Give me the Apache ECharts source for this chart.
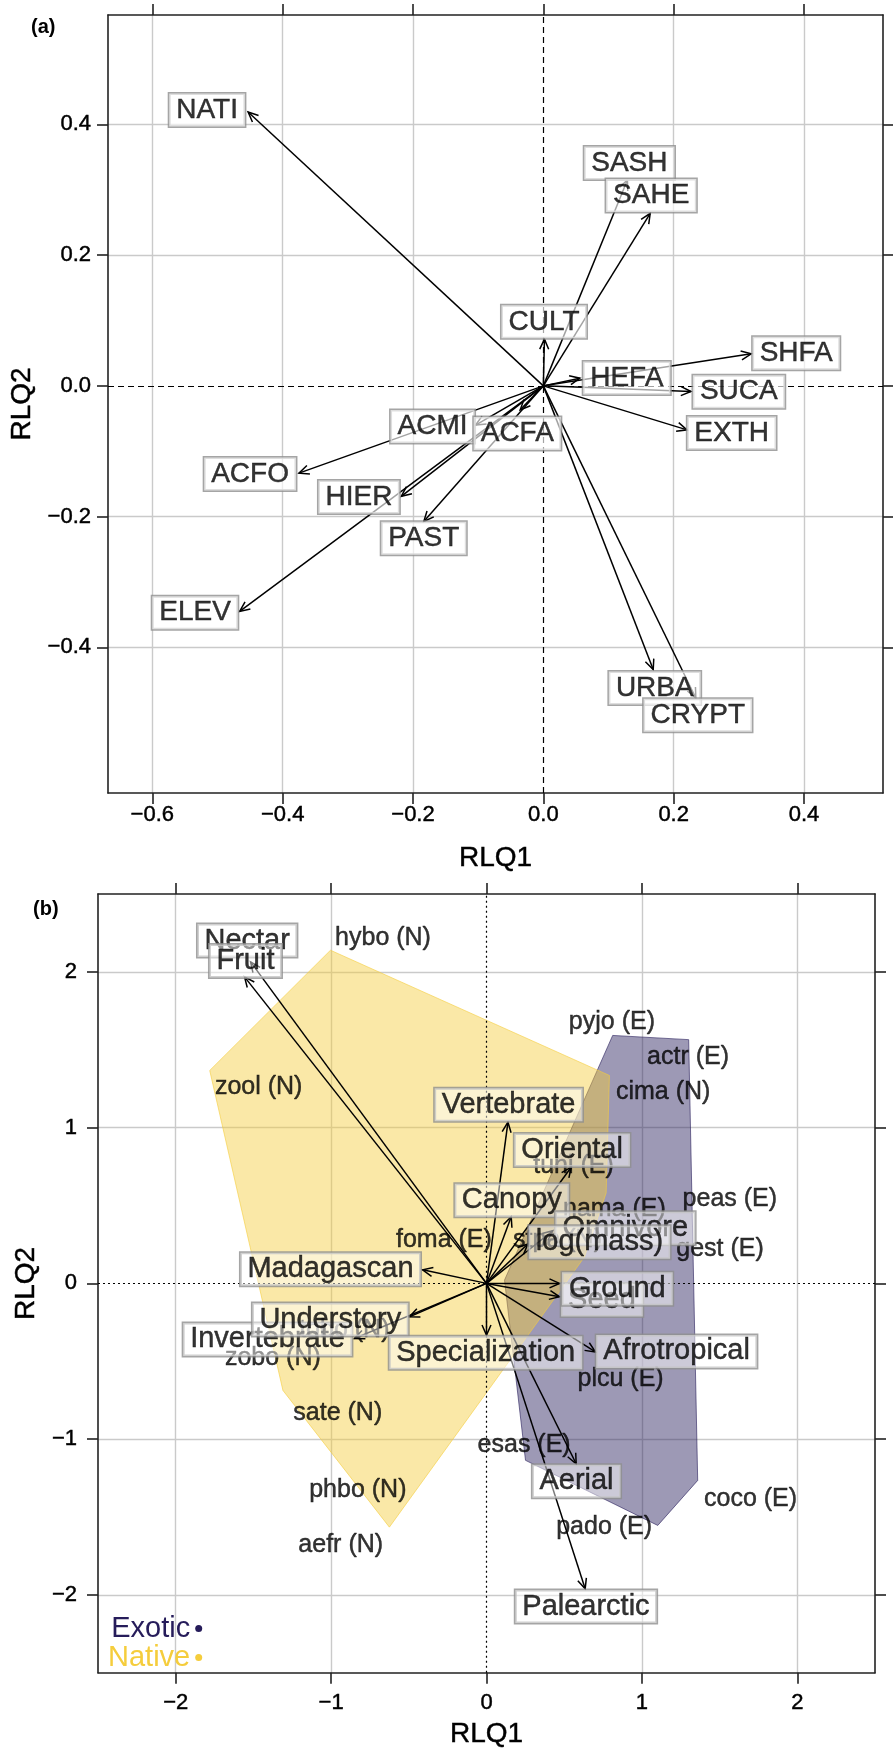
<!DOCTYPE html>
<html><head><meta charset="utf-8">
<script src="https://cdn.jsdelivr.net/npm/echarts@6/dist/echarts.min.js"></script>
<style>html,body{margin:0;padding:0;background:#fff}#c{width:893px;height:1750px}</style>
</head><body><div id="c"></div>
<script>
// ---------- Panel (a): environmental variables ----------
const envNames  = ['NATI','SASH','SAHE','CULT','SHFA','HEFA','SUCA','EXTH','ACMI','ACFA','ACFO','HIER','PAST','ELEV','URBA','CRYPT'];
const envX      = [-0.453, 0.129, 0.164, 0.0017, 0.319, 0.056, 0.2266, 0.2205, -0.104, -0.0355, -0.375, -0.218, -0.1835, -0.466, 0.1686, 0.234];
const envY      = [0.419, 0.315, 0.264, 0.0714, 0.049, 0.0118, -0.0087, -0.0673, -0.060, -0.0367, -0.1335, -0.169, -0.2075, -0.345, -0.434, -0.4775];
const envLabelX = [-0.516, 0.132, 0.1655, 0.001, 0.388, 0.128, 0.300, 0.289, -0.170, -0.040, -0.450, -0.283, -0.1835, -0.5345, 0.171, 0.237];
const envLabelY = [0.422, 0.341, 0.291, 0.098, 0.050, 0.012, -0.009, -0.072, -0.062, -0.073, -0.135, -0.170, -0.233, -0.347, -0.462, -0.504];
const aTicksX = [-0.6, -0.4, -0.2, 0, 0.2, 0.4];
const aTicksY = [-0.4, -0.2, 0, 0.2, 0.4];

// ---------- Panel (b): traits, species, groups ----------
const traitNames  = ['Nectar','Fruit','Vertebrate','Oriental','Canopy','Omnivore','log(mass)','Madagascan','Seed','Ground','Invertebrate','Understory','Specialization','Afrotropical','Aerial','Palearctic'];
const traitX      = [-1.518, -1.557, 0.138, 0.545, 0.159, 0.427, 0.266, -0.411, 0.470, 0.470, -0.850, -0.496, 0.0, 0.701, 0.577, 0.635];
const traitY      = [2.064, 1.968, 1.035, 0.746, 0.428, 0.338, 0.253, 0.087, -0.086, 0.0, -0.354, -0.215, -0.332, -0.440, -1.158, -1.961];
const traitLabelX = [-1.540, -1.551, 0.142, 0.551, 0.163, 0.893, 0.727, -1.004, 0.743, 0.842, -1.409, -1.005, -0.005, 1.223, 0.579, 0.640];
const traitLabelY = [2.201, 2.070, 1.147, 0.857, 0.534, 0.354, 0.264, 0.090, -0.107, -0.035, -0.360, -0.232, -0.446, -0.437, -1.270, -2.075];

const speciesNames = ['hybo (N)','zool (N)','foma (E)','pyjo (E)','actr (E)','cima (N)','tuni (E)','nama (E)','peas (E)','gest (E)','stpa (N)','zobo (N)','tobo (N)','sate (N)','phbo (N)','aefr (N)','esas (E)','plcu (E)','coco (E)','pado (E)'];
const speciesX = [-0.666, -1.466, -0.274, 0.807, 1.297, 1.137, 0.560, 0.823, 1.566, 1.503, 0.457, -1.375, -0.915, -0.957, -0.828, -0.938, 0.242, 0.863, 1.699, 0.757];
const speciesY = [2.214, 1.260, 0.278, 1.678, 1.453, 1.228, 0.756, 0.478, 0.542, 0.221, 0.278, -0.482, -0.300, -0.836, -1.325, -1.683, -1.040, -0.617, -1.383, -1.565];

const nativeHullX = [-1.781, -1.004, 0.791, 0.770, 0.630, -0.625, -1.310];
const nativeHullY = [1.367, 2.139, 1.335, 0.581, 0.169, -1.565, -0.687];
const exoticHullX = [0.812, 1.301, 1.359, 1.102, 0.251, 0.116];
const exoticHullY = [1.592, 1.565, -1.265, -1.554, -1.136, 0.021];
const bTicks = [-2, -1, 0, 1, 2];

const groupNames = ['Exotic', 'Native'];
const groupColors = ['#261c5a', '#f5cd3c'];

// ---------- helpers ----------
const FONT = '"Liberation Sans", Arial, Helvetica, sans-serif';
const INK = '#000';
const GRIDC = '#cacaca';
function fmt1(v) { return (v < -1e-9 ? '\u2212' : '') + Math.abs(v).toFixed(1); }
function fmt0(v) { return (v < -1e-9 ? '\u2212' : '') + Math.abs(v).toFixed(0); }
function splitColors(ticks) { return ticks.map(t => Math.abs(t) < 1e-9 ? 'rgba(0,0,0,0)' : GRIDC); }
const THICK = { textBorderColor: INK, textBorderWidth: 0.45 };

function arrowRender(params, api) {
  const o = api.coord([0, 0]);
  const p = api.coord([api.value(0), api.value(1)]);
  const ang = Math.atan2(p[1] - o[1], p[0] - o[0]);
  const L = 11, A = 0.42;
  const h1 = [p[0] - L * Math.cos(ang - A), p[1] - L * Math.sin(ang - A)];
  const h2 = [p[0] - L * Math.cos(ang + A), p[1] - L * Math.sin(ang + A)];
  return { type: 'group', children: [
    { type: 'line', shape: { x1: o[0], y1: o[1], x2: p[0], y2: p[1] }, style: { stroke: INK, lineWidth: 1.5 } },
    { type: 'polyline', shape: { points: [h1, p, h2] }, style: { stroke: INK, lineWidth: 1.5, fill: null } }
  ]};
}
function hullRender(hx, hy, fill, stroke) {
  return function (params, api) {
    if (params.dataIndex !== 0) return null;
    const pts = hx.map((x, i) => api.coord([x, hy[i]]));
    return { type: 'polygon', shape: { points: pts }, style: { fill: fill, stroke: stroke, lineWidth: 1 } };
  };
}
function xAxisPair(gi, min, max, ticks, fmt, margin, nameGap) {
  const common = { gridIndex: gi, type: 'value', min: min, max: max,
    axisLine: { show: true, onZero: false, lineStyle: { color: '#222', width: 1.6 } },
    axisTick: { show: true, inside: false, length: 11, customValues: ticks, lineStyle: { color: '#222', width: 1.6 } } };
  return [
    Object.assign({}, common, { position: 'bottom', name: 'RLQ1', nameLocation: 'middle', nameGap: nameGap,
      nameTextStyle: Object.assign({ fontSize: 28, fontFamily: FONT, color: INK }, THICK),
      axisLabel: Object.assign({ show: true, customValues: ticks, formatter: fmt, fontSize: 22, fontFamily: FONT, color: INK, margin: margin }, THICK),
      splitLine: { show: true, lineStyle: { color: splitColors(ticks), width: 1.4 } } }),
    Object.assign({}, common, { position: 'top', axisLabel: { show: false }, splitLine: { show: false } })
  ];
}
function yAxisPair(gi, min, max, ticks, fmt, margin, nameGap) {
  const common = { gridIndex: gi, type: 'value', min: min, max: max,
    axisLine: { show: true, onZero: false, lineStyle: { color: '#222', width: 1.6 } },
    axisTick: { show: true, inside: false, length: 11, customValues: ticks, lineStyle: { color: '#222', width: 1.6 } } };
  return [
    Object.assign({}, common, { position: 'left', name: 'RLQ2', nameLocation: 'middle', nameGap: nameGap,
      nameTextStyle: Object.assign({ fontSize: 28, fontFamily: FONT, color: INK }, THICK),
      axisLabel: Object.assign({ show: true, customValues: ticks, formatter: fmt, fontSize: 22, fontFamily: FONT, color: INK, margin: margin }, THICK),
      splitLine: { show: true, lineStyle: { color: splitColors(ticks), width: 1.4 } } }),
    Object.assign({}, common, { position: 'right', axisLabel: { show: false }, splitLine: { show: false } })
  ];
}
function boxLabel(fontSize, bg) {
  return Object.assign({ show: true, position: 'inside', formatter: '{b}', fontSize: fontSize, fontFamily: FONT, color: INK,
    backgroundColor: bg, borderColor: '#8f8f8f', borderWidth: 1.5, padding: [2, 7, 1, 7], lineHeight: 30 }, THICK);
}
function zeroLines(typ) {
  return { silent: true, symbol: 'none', z: 2, label: { show: false },
    lineStyle: { color: INK, width: 1.2, type: typ }, emphasis: { disabled: true },
    data: [{ xAxis: 0 }, { yAxis: 0 }] };
}

const chart = echarts.init(document.getElementById('c'), null, { renderer: 'canvas' });
const xa = xAxisPair(0, -0.668, 0.5212, aTicksX, fmt1, 11, 51).concat(xAxisPair(1, -2.5, 2.5, bTicks, fmt0, 19, 48));
const ya = yAxisPair(0, -0.6228, 0.5673, aTicksY, fmt1, 17, 64).concat(yAxisPair(1, -2.5, 2.5, bTicks, fmt0, 21, 58));

chart.setOption({
  animation: false,
  backgroundColor: '#fff',
  title: [
    { text: '(a)', left: 26, top: 12, textStyle: { fontSize: 20, fontWeight: 'bold', fontFamily: FONT, color: INK } },
    { text: '(b)', left: 28, top: 894, textStyle: { fontSize: 20, fontWeight: 'bold', fontFamily: FONT, color: INK } }
  ],
  grid: [
    { left: 104, top: 15, width: 779, height: 778, containLabel: false },
    { left: 98, top: 894, width: 777, height: 779, containLabel: false }
  ],
  xAxis: xa,
  yAxis: ya,
  legend: {
    data: groupNames.map((n, i) => ({ name: n, textStyle: { color: groupColors[i] }, itemStyle: { color: groupColors[i] } })),
    orient: 'vertical', left: 103, top: 1609, align: 'right', icon: 'circle', itemWidth: 7, itemHeight: 7, itemGap: 0,
    selectedMode: false, textStyle: { fontSize: 29, fontFamily: FONT, lineHeight: 27 }
  },
  series: [
    // panel (a)
    { type: 'custom', name: 'envArrows', xAxisIndex: 0, yAxisIndex: 0, silent: true, z: 3, clip: false,
      renderItem: arrowRender, encode: { x: 0, y: 1 }, data: envX.map((x, i) => [x, envY[i]]),
      markLine: zeroLines([6, 4]) },
    { type: 'scatter', name: 'envLabels', xAxisIndex: 0, yAxisIndex: 0, silent: true, z: 4, symbolSize: 1,
      itemStyle: { color: 'rgba(0,0,0,0)' }, label: boxLabel(28, 'rgba(255,255,255,0.8)'),
      data: envNames.map((n, i) => ({ name: n, value: [envLabelX[i], envLabelY[i]] })) },
    // panel (b)
    { type: 'custom', name: 'Exotic', xAxisIndex: 2, yAxisIndex: 2, silent: true, z: 1,
      itemStyle: { color: groupColors[0] },
      renderItem: hullRender(exoticHullX, exoticHullY, 'rgba(38,28,90,0.45)', 'rgba(38,28,90,0.6)'),
      encode: { x: 0, y: 1 }, data: exoticHullX.map((x, i) => [x, exoticHullY[i]]) },
    { type: 'custom', name: 'Native', xAxisIndex: 2, yAxisIndex: 2, silent: true, z: 1,
      itemStyle: { color: groupColors[1] },
      renderItem: hullRender(nativeHullX, nativeHullY, 'rgba(245,205,60,0.45)', 'rgba(245,205,60,0.6)'),
      encode: { x: 0, y: 1 }, data: nativeHullX.map((x, i) => [x, nativeHullY[i]]) },
    { type: 'scatter', name: 'species', xAxisIndex: 2, yAxisIndex: 2, silent: true, z: 2, symbolSize: 1,
      itemStyle: { color: 'rgba(0,0,0,0)' },
      label: Object.assign({ show: true, position: 'inside', formatter: '{b}', fontSize: 25, fontFamily: FONT, color: INK }, THICK),
      data: speciesNames.map((n, i) => ({ name: n, value: [speciesX[i], speciesY[i]] })) },
    { type: 'custom', name: 'traitArrows', xAxisIndex: 2, yAxisIndex: 2, silent: true, z: 3, clip: false,
      renderItem: arrowRender, encode: { x: 0, y: 1 }, data: traitX.map((x, i) => [x, traitY[i]]),
      markLine: zeroLines([2, 3]) },
    { type: 'scatter', name: 'traitLabels', xAxisIndex: 2, yAxisIndex: 2, silent: true, z: 4, symbolSize: 1,
      itemStyle: { color: 'rgba(0,0,0,0)' }, label: boxLabel(29, 'rgba(255,255,255,0.6)'),
      data: traitNames.map((n, i) => ({ name: n, value: [traitLabelX[i], traitLabelY[i]] })) }
  ]
});
</script>
</body></html>
